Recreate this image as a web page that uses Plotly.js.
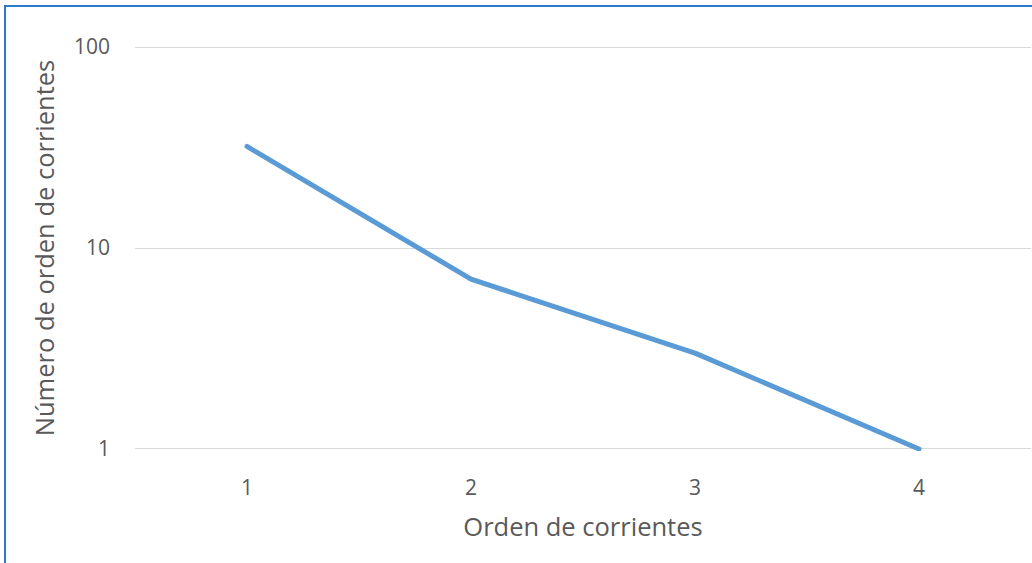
<!DOCTYPE html>
<html>
<head>
<meta charset="utf-8">
<script src="https://cdn.plot.ly/plotly-3.0.1.min.js"></script>
<style>
  html, body { margin: 0; padding: 0; background: #fff; width: 1032px; height: 563px; overflow: hidden; }
  #frame { position: absolute; left: 4px; top: 5px; width: 1040px; height: 600px;
           border-left: 2px solid #2A7AC9; border-top: 2px solid #2A7AC9; pointer-events: none; z-index: 10; }
  #chart { position: absolute; left: 0; top: 0; width: 1032px; height: 563px; }
  .scatterlayer path.js-line { stroke-linecap: round; stroke-linejoin: round; }
</style>
</head>
<body>
<div id="chart"></div>
<div id="frame"></div>
<script>
const streamOrders = [1, 2, 3, 4];
const streamCounts = [32, 7, 3, 1];
const yTickValues = [1, 10, 100];
const yTickLabels = ["1", "10", "100"];
const xTitle = "Orden de corrientes";
const yTitle = "Número de orden de corrientes";

const font = "'Open Sans', 'Liberation Sans', sans-serif";
const pad = 0.01;

Plotly.newPlot("chart", [{
  x: streamOrders,
  y: streamCounts,
  type: "scatter",
  mode: "lines",
  line: { color: "#5B9BD5", width: 5 },
  hoverinfo: "skip"
}], {
  width: 1032, height: 563,
  margin: { l: 135, r: 1, t: 45, b: 112 },
  paper_bgcolor: "#fff", plot_bgcolor: "#fff",
  showlegend: false,
  font: { family: font, color: "#595959", size: 21 },
  xaxis: {
    range: [0.5, 4.5],
    tickvals: streamOrders,
    ticktext: streamOrders.map(String),
    showgrid: false, zeroline: false,
    showline: false, ticks: "",
    ticklabelstandoff: 22,
    tickfont: { family: font, size: 21, color: "#595959" },
    title: { text: xTitle, font: { family: font, size: 25.5, color: "#595959" }, standoff: 18 }
  },
  yaxis: {
    type: "log",
    range: [-pad, 2 + pad],
    tickvals: yTickValues,
    ticktext: yTickLabels,
    showgrid: true, gridcolor: "#D9D9D9", gridwidth: 1,
    zeroline: false, showline: false, ticks: "",
    ticklabelstandoff: 24,
    tickfont: { family: font, size: 21, color: "#595959" },
    title: { text: yTitle, font: { family: font, size: 25.5, color: "#595959" }, standoff: 12 }
  }
}, { staticPlot: true });
</script>
</body>
</html>
